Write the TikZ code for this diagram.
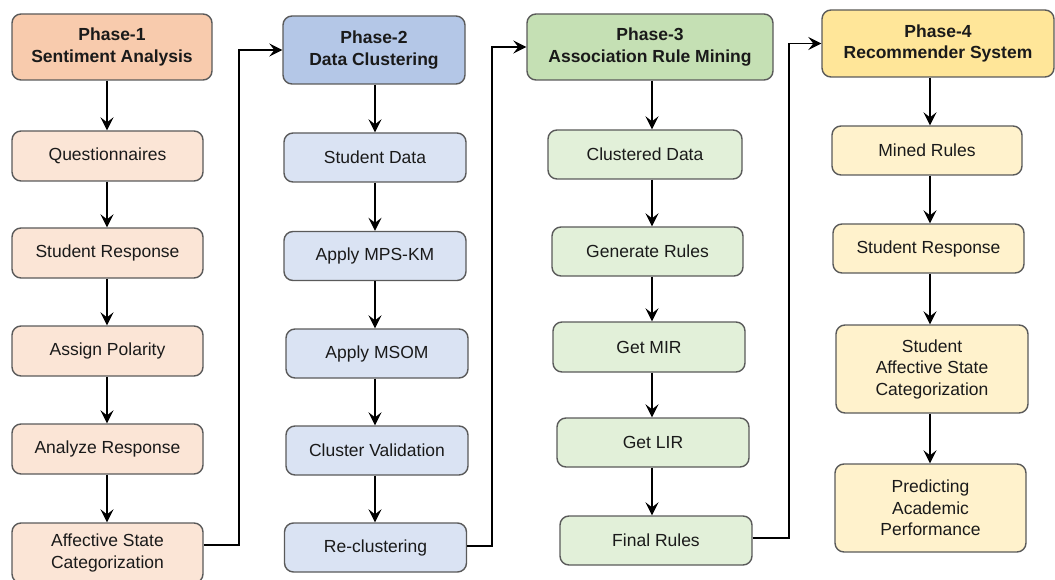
\documentclass[tikz,border=0pt]{standalone}
\usepackage{fontspec}
\setmainfont{Liberation Sans}
\usetikzlibrary{arrows.meta}

\definecolor{boxline}{HTML}{5A5A5A}
\definecolor{txt}{HTML}{1A1A1A}
\definecolor{headA}{HTML}{F8CBAD}
\definecolor{headB}{HTML}{B4C7E7}
\definecolor{headC}{HTML}{C5E0B4}
\definecolor{headD}{HTML}{FFE699}
\definecolor{bodyA}{HTML}{FBE5D6}
\definecolor{bodyB}{HTML}{DAE3F3}
\definecolor{bodyC}{HTML}{E2F0D9}
\definecolor{bodyD}{HTML}{FFF2CC}

\begin{document}
\begin{tikzpicture}[x=1pt,y=-1pt,
  box/.style={draw=boxline, line width=1.4pt, rounded corners=9pt,
    align=center, inner sep=0pt, text=txt,
    font=\fontsize{17.5}{21.5}\selectfont},
  head/.style={box, font=\bfseries\fontsize{17.5}{21.5}\selectfont},
  conn/.style={line width=1.3pt, draw=black,
    -{Stealth[length=13pt,width=13pt,inset=5pt]}},
]
\useasboundingbox (0,0) rectangle (1055,580);
\begin{scope}
\clip (0,0) rectangle (1055,580);

% ---- Phase 1 ----
\node[head, fill=headA, minimum width=200pt, minimum height=66pt] (h1) at (112,47) {Phase-1\\Sentiment Analysis};
\begin{scope}[every node/.style={box, fill=bodyA, minimum width=191pt, minimum height=50pt}]
\node (a1) at (107.5,156) {Questionnaires};
\node (a2) at (107.5,253) {Student Response};
\node (a3) at (107.5,351) {Assign Polarity};
\node (a4) at (107.5,449) {Analyze Response};
\node[minimum height=60pt] (a5) at (107.5,553) {Affective State\\Categorization};
\end{scope}

% ---- Phase 2 ----
\node[head, fill=headB, minimum width=182pt, minimum height=68pt] (h2) at (374,50) {Phase-2\\Data Clustering};
\begin{scope}[every node/.style={box, fill=bodyB, minimum width=182pt, minimum height=49pt}]
\node (b1) at (375,157.5) {Student Data};
\node (b2) at (375,256) {Apply MPS-KM};
\node (b3) at (377,353.5) {Apply MSOM};
\node (b4) at (377,450.5) {Cluster Validation};
\node (b5) at (375.5,547.5) {Re-clustering};
\end{scope}

% ---- Phase 3 ----
\node[head, fill=headC, minimum width=246pt, minimum height=66pt] (h3) at (650,47) {Phase-3\\Association Rule Mining};
\begin{scope}[every node/.style={box, fill=bodyC, minimum width=192pt, minimum height=49pt}]
\node[minimum width=194pt] (c1) at (645,154.5) {Clustered Data};
\node[minimum width=191pt] (c2) at (647.5,251.5) {Generate Rules};
\node[minimum height=50pt] (c3) at (649,347) {Get MIR};
\node (c4) at (653,442.5) {Get LIR};
\node (c5) at (656,540.5) {Final Rules};
\end{scope}

% ---- Phase 4 ----
\node[head, fill=headD, minimum width=232pt, minimum height=67pt] (h4) at (938,43.5) {Phase-4\\Recommender System};
\begin{scope}[every node/.style={box, fill=bodyD, minimum width=191pt, minimum height=49pt}]
\node[minimum width=190pt] (d1) at (927,150.5) {Mined Rules};
\node (d2) at (928.5,248.5) {Student Response};
\node[minimum width=192pt, minimum height=88pt] (d3) at (932,369) {Student\\Affective State\\Categorization};
\node[minimum height=88pt] (d4) at (930.5,508) {Predicting\\Academic\\Performance};
\end{scope}

% vertical guides of each column's arrows
\coordinate (xa) at (107,0);
\coordinate (xb) at (375,0);
\coordinate (xc) at (652,0);
\coordinate (xd) at (930,0);
% elbows of the links between phases
\coordinate (ea) at (239,0);
\coordinate (eb) at (492,0);
\coordinate (ec) at (789,0);

% ---- arrows within columns ----
\foreach \u/\v in {h1/a1,a1/a2,a2/a3,a3/a4,a4/a5}
  \draw[conn] (xa |- \u.south) -- (xa |- \v.north);
\foreach \u/\v in {h2/b1,b1/b2,b2/b3,b3/b4,b4/b5}
  \draw[conn] (xb |- \u.south) -- (xb |- \v.north);
\foreach \u/\v in {h3/c1,c1/c2,c2/c3,c3/c4,c4/c5}
  \draw[conn] (xc |- \u.south) -- (xc |- \v.north);
\foreach \u/\v in {h4/d1,d1/d2,d2/d3,d3/d4}
  \draw[conn] (xd |- \u.south) -- (xd |- \v.north);

% ---- links between phases ----
\draw[conn] ([yshift=8pt]a5.east) -| (ea |- h2.west) -- (h2.west);
\draw[conn] ([yshift=1.5pt]b5.east) -| (eb |- h3.west) -- (h3.west);
\draw[conn] ([yshift=2.5pt]c5.east) -| (ec |- h4.west) -- (h4.west);
\end{scope}
\end{tikzpicture}
\end{document}
